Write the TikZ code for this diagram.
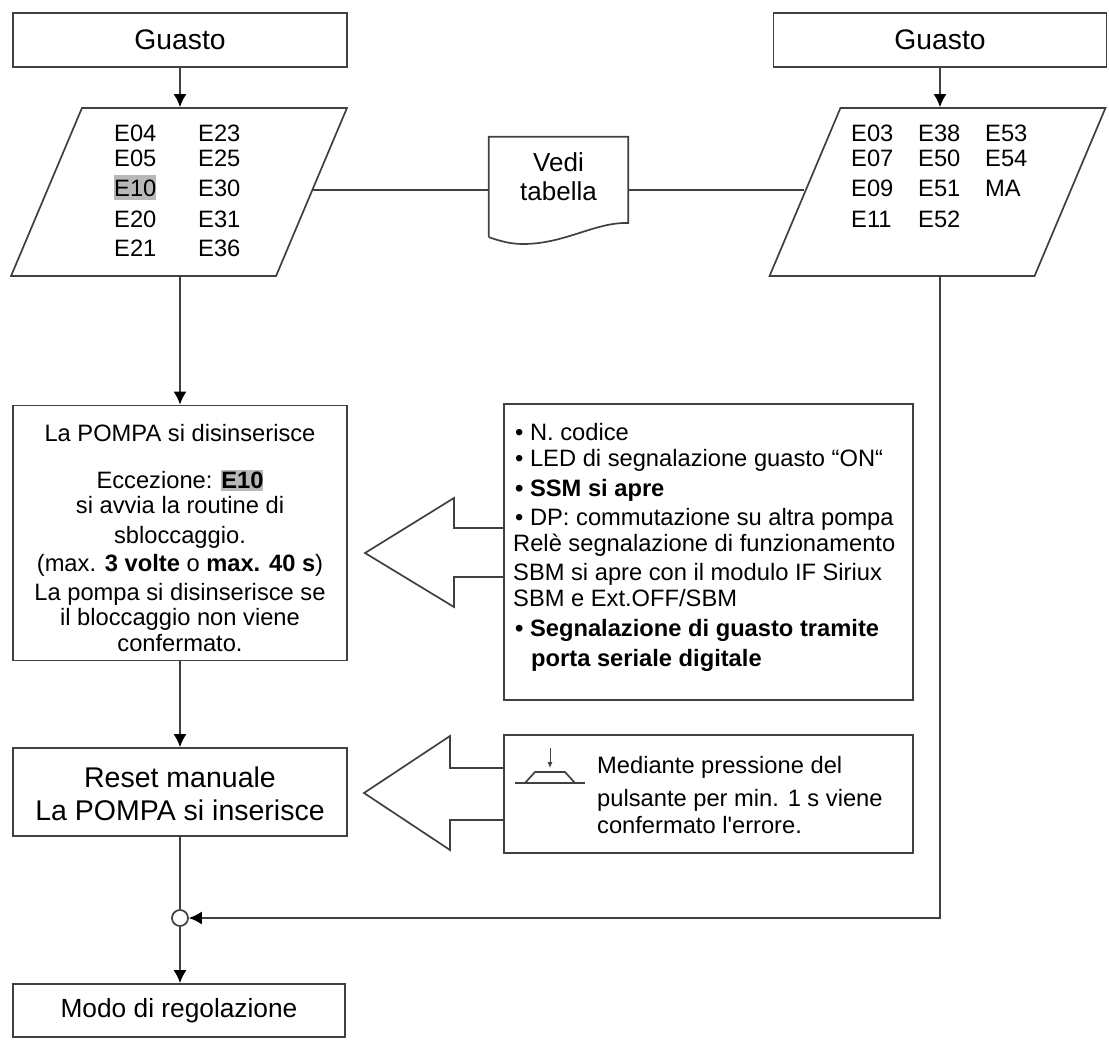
\documentclass[tikz,border=0pt]{standalone}
\usepackage{fontspec}
\setmainfont{Liberation Sans}[Ligatures=TeXOff]
\usetikzlibrary{arrows.meta,shapes.geometric}
\definecolor{linea}{gray}{0.25}
\definecolor{evidenza}{gray}{0.72}
\tikzset{
  box/.style={draw=linea,line width=1.7pt,rectangle,minimum width=334pt,minimum height=54pt,inner sep=0pt},
  lista/.style={draw=linea,line width=1.7pt,trapezium,trapezium stretches=true,trapezium left angle=70.5,trapezium right angle=109.5,minimum width=336pt,minimum height=168pt,inner sep=0pt},
  flow/.style={draw=linea,line width=1.7pt},
  flecha/.style={flow,-{Latex[length=13pt,width=13pt,black]}},
  frame/.style={draw=linea,line width=1.7pt},
  grande/.style={font=\fontsize{28.3}{32}\selectfont},
  codice/.style={anchor=west,inner sep=0pt,text height=17pt,text depth=0pt,font=\fontsize{23.7}{28}\selectfont},
  riga/.style={inner sep=0pt,text height=17pt,text depth=0pt,font=\fontsize{23.7}{28}\selectfont},
  rigasx/.style={riga,anchor=west},
  rigone/.style={inner sep=0pt,text height=20pt,text depth=0pt,font=\fontsize{28.5}{32}\selectfont},
}
\begin{document}
\begin{tikzpicture}[x=1pt,y=-1pt]
\useasboundingbox (0,0) rectangle (1109,1040);

% guasto, sinistra
\node[box,grande] (guastoL) at (180,40) {Guasto};
\node[lista] (listaL) at (179,192) {\phantom{E}};
\path
      (114,133) node[codice] (e04) {E04}
    ++(  0, 25) node[codice] (e05) {E05}
    ++(  0, 30) node[codice,fill=evidenza,inner ysep=4pt] (e10) {E10}
    ++(  0, 31) node[codice] (e20) {E20}
    ++(  0, 29) node[codice] (e21) {E21};
\path
      (198,133) node[codice] (e23) {E23}
    ++(  0, 25) node[codice] (e25) {E25}
    ++(  0, 30) node[codice] (e30) {E30}
    ++(  0, 31) node[codice] (e31) {E31}
    ++(  0, 29) node[codice] (e36) {E36};

% guasto, destra
\node[box,grande,minimum width=333pt] (guastoR) at (940,40) {Guasto};
\node[lista] (listaR) at (937.5,192) {\phantom{E}};
\path
      (851,133) node[codice] (e03) {E03}
    ++(  0, 25) node[codice] (e07) {E07}
    ++(  0, 30) node[codice] (e09) {E09}
    ++(  0, 31) node[codice] (e11) {E11};
\path
      (918,133) node[codice] (e38) {E38}
    ++(  0, 25) node[codice] (e50) {E50}
    ++(  0, 30) node[codice] (e51) {E51}
    ++(  0, 31) node[codice] (e52) {E52};
\path
      (985,133) node[codice] (e53) {E53}
    ++(  0, 25) node[codice] (e54) {E54}
    ++(  0, 30) node[codice] (ma) {MA};

% tabella
\node[minimum width=139pt,minimum height=100pt,inner sep=0pt] (vedi) at (558.5,187) {};
\path
      (558.5,163) node[codice,anchor=center,font=\fontsize{26}{30}\selectfont] (vedi1) {Vedi}
    ++(  0, 29) node[codice,anchor=center,font=\fontsize{26}{30}\selectfont] (vedi2) {tabella};
\draw[frame] (vedi.south west) -- (vedi.north west) -- (vedi.north east) -- (vedi.east |- 0,223)
    .. controls (595,222) and (565,244) .. (523,244)
    .. controls (510,244) and (500,241) .. (vedi.south west);

% pompa
\node[box,minimum height=255pt] (pompa) at (180,533) {};
\path
      (180,433) node[riga] (p1) {La POMPA si disinserisce}
    ++(  0, 47) node[riga] (p2) {Eccezione: \setlength{\fboxsep}{2pt}\colorbox{evidenza}{\hspace{-2pt}\textbf{E10}\hspace{-2pt}}}
    ++(  0, 25) node[riga] (p3) {si avvia la routine di}
    ++(  0, 30) node[riga] (p4) {sbloccaggio.}
    ++(  0, 28) node[riga] (p5) {(max. \textbf{3 volte} o \textbf{max. 40 s})}
    ++(  0, 29) node[riga] (p6) {La pompa si disinserisce se}
    ++(  0, 25) node[riga] (p7) {il bloccaggio non viene}
    ++(  0, 26) node[riga] (p8) {confermato.};

% segnalazioni
\node[box,minimum width=409pt,minimum height=296pt] (info) at (708.5,552) {};
\path
      (515,432) node[rigasx] (i1) {• N. codice}
    ++(  0, 26) node[rigasx] (i2) {• LED di segnalazione guasto “ON“}
    ++(  0, 30) node[rigasx] (i3) {\textbf{• SSM si apre}}
    ++(  0, 29) node[rigasx] (i4) {• DP: commutazione su altra pompa}
    ++( -2, 26) node[rigasx] (i5) {Relè segnalazione di funzionamento}
    ++(  0, 29) node[rigasx] (i6) {SBM si apre con il modulo IF Siriux}
    ++(  0, 26) node[rigasx] (i7) {SBM e Ext.OFF/SBM}
    ++(  2, 30) node[rigasx] (i8) {\textbf{• Segnalazione di guasto tramite}}
    ++( 16, 30) node[rigasx] (i9) {\textbf{porta seriale digitale}};
\draw[frame] (info.west |- 0,528) -- (454,528) -- (454,498) -- (365,553)
    -- (454,607) -- (454,577) -- (info.west |- 0,577);

% reset
\node[box,minimum height=88pt] (reset) at (180,792) {};
\path
      (180,777) node[rigone] (r1) {Reset manuale}
    ++(  0, 33) node[rigone] (r2) {La POMPA si inserisce};
\node[box,minimum width=409pt,minimum height=118pt] (tasto) at (708.5,794) {};
\path
      (597,765) node[rigasx] (t1) {Mediante pressione del}
    ++(  0, 33) node[rigasx] (t2) {pulsante per min. 1 s viene}
    ++(  0, 27) node[rigasx] (t3) {confermato l'errore.};
\draw[frame] (tasto.west |- 0,768) -- (450,768) -- (450,736) -- (364,793)
    -- (450,850) -- (450,820) -- (tasto.west |- 0,820);
\coordinate (tastoA) at (550,748);
\coordinate (tastoB) at (550,768);
\draw[-{Latex[length=6pt,width=5pt]},line width=1pt,linea] (tastoA) -- (tastoB);
\draw[frame] (515,783) -- (585,783);
\draw[frame] (525,783) -- (535,772) -- (565,772) -- (575,783);

% modo
\node[box,minimum width=332pt,minimum height=53pt,font=\fontsize{26.3}{30}\selectfont] (modo) at (179,1010.5) {Modo di regolazione};
\node[circle,draw=linea,line width=1.7pt,fill=white,minimum size=16pt,inner sep=0pt] (giunto) at (180,918) {};

\coordinate (attacco) at (0,190);
\draw[flecha] (guastoL) -- (guastoL |- listaL.north);
\draw[flecha] (guastoR) -- (guastoR |- listaR.north);
\draw[flecha] (guastoL |- listaL.south) -- (pompa);
\draw[flecha] (pompa) -- (reset);
\draw[flow] (reset) -- (giunto);
\draw[flecha] (giunto) -- (giunto |- modo.north);
\draw[flecha] (guastoR |- listaR.south) |- (giunto);
\draw[flow] (listaL.east |- attacco) -- (vedi.west |- attacco);
\draw[flow] (vedi.east |- attacco) -- (listaR.west |- attacco);
\end{tikzpicture}
\end{document}
